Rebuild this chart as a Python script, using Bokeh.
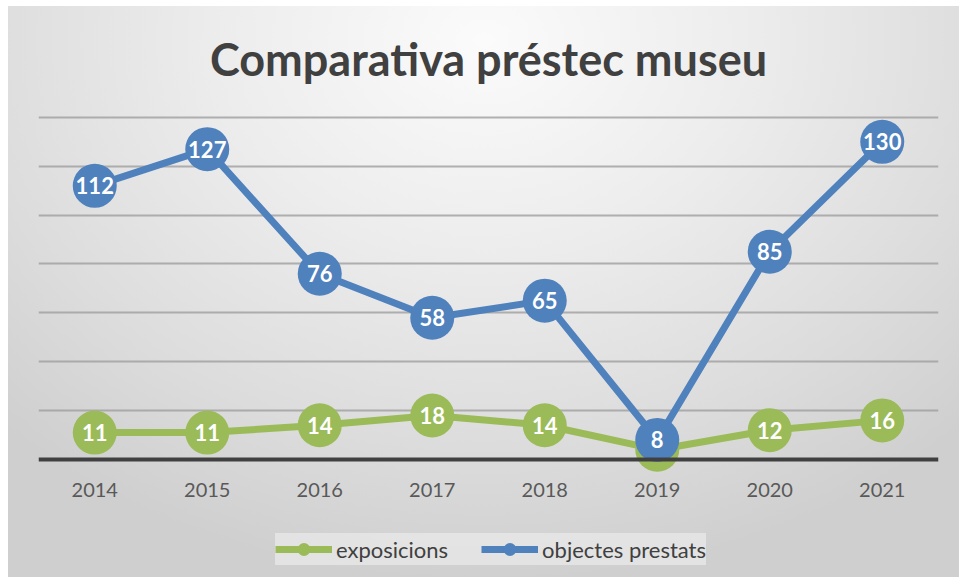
from bokeh.plotting import figure
from bokeh.models import ColumnDataSource, Legend, LegendItem, Span, FixedTicker
from bokeh.core.properties import value
from bokeh.embed import file_html
from bokeh.resources import INLINE

years = ["2014", "2015", "2016", "2017", "2018", "2019", "2020", "2021"]
exposicions = [11, 11, 14, 18, 14, 4, 12, 16]
objectes_prestats = [112, 127, 76, 58, 65, 8, 85, 130]
grid_values = [20, 40, 60, 80, 100, 120, 140]
title_text = "Comparativa préstec museu"
series_names = ["exposicions", "objectes prestats"]

GREEN = "#9bbb59"
BLUE = "#4f81bd"
FONT = "Lato"

src = ColumnDataSource(dict(
    year=years,
    expo=exposicions,
    obj=objectes_prestats,
    expo_lbl=[str(v) for v in exposicions],
    obj_lbl=[str(v) for v in objectes_prestats],
    axis0=[0] * len(years),
))

p = figure(
    width=959, height=577,
    x_range=years, y_range=(-48.3, 142),
    output_backend="svg", toolbar_location=None,
    min_border_left=38, min_border_right=21, min_border_top=112, min_border_bottom=0,
)
p.styles = {
    "background": ("radial-gradient(ellipse 72% 95% at 50% 6%, #fbfbfb 0%, #ececec 40%, "
                   "#dcdcdc 75%, #cfcfcf 100%) 8px 6px / calc(100% - 8px) calc(100% - 6px) no-repeat, #ffffff"),
}
p.background_fill_alpha = 0
p.border_fill_alpha = 0
p.outline_line_color = None

p.title.text = title_text
p.title.align = "center"
p.title.text_font = FONT
p.title.text_font_style = "bold"
p.title.text_font_size = "45px"
p.title.text_color = "#404040"
p.title.standoff = 53

p.xaxis.visible = False
p.yaxis.visible = False
p.xgrid.grid_line_color = None
p.ygrid.ticker = FixedTicker(ticks=grid_values)
p.ygrid.grid_line_color = "#9f9f9f"
p.ygrid.grid_line_width = 2
p.ygrid.grid_line_alpha = 0.8

base = Span(location=0, dimension="width", line_color="#404040", line_width=4)
p.add_layout(base)

# category labels under the baseline
p.text("year", "axis0", text="year", source=src, y_offset=31, text_align="center",
       text_baseline="middle", text_color="#595959", text_font=value(FONT), text_font_size="20px")

g_line = p.line("year", "expo", source=src, line_color=GREEN, line_width=7)
g_pts = p.scatter("year", "expo", source=src, size=44, fill_color=GREEN, line_color=None)
p.text("year", "expo", text="expo_lbl", source=src, text_align="center", text_baseline="middle",
       text_color="white", text_font=value(FONT), text_font_style="bold", text_font_size="22px")

b_line = p.line("year", "obj", source=src, line_color=BLUE, line_width=7)
b_pts = p.scatter("year", "obj", source=src, size=44, fill_color=BLUE, line_color=None)
p.text("year", "obj", text="obj_lbl", source=src, text_align="center", text_baseline="middle",
       text_color="white", text_font=value(FONT), text_font_style="bold", text_font_size="22px")

legend = Legend(items=[
    LegendItem(label=series_names[0], renderers=[g_line, g_pts]),
    LegendItem(label=series_names[1], renderers=[b_line, b_pts]),
], orientation="horizontal", location=(237, 12))
legend.label_text_font = FONT
legend.label_text_font_size = "22px"
legend.label_text_color = "#404040"
legend.glyph_width = 57
legend.glyph_height = 32
legend.label_height = 32
legend.label_standoff = 4
legend.spacing = 33
legend.padding = 6
legend.margin = 0
legend.background_fill_color = "#e6e6e6"
legend.background_fill_alpha = 0.85
legend.border_line_color = None
p.add_layout(legend, "center")

open("out.html", "w").write(file_html(p, INLINE))
